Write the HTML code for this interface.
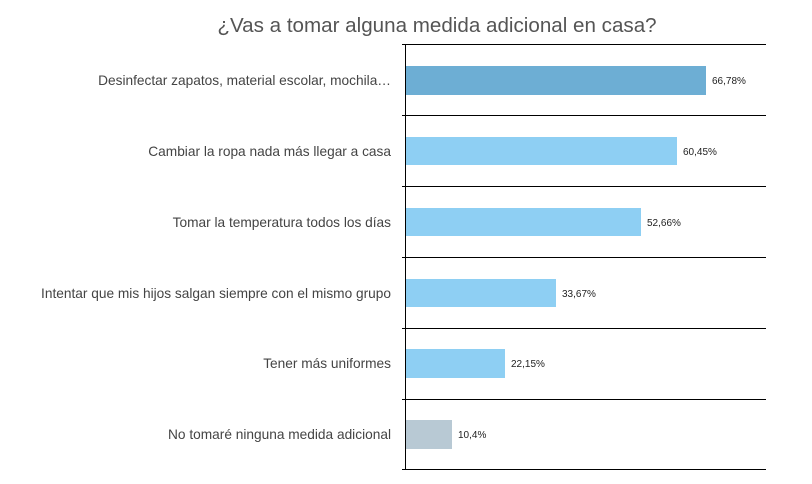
<!DOCTYPE html><html><head><style>body{margin:0;background:#fff;width:812px;height:479px;overflow:hidden;font-family:"Liberation Sans",sans-serif}</style></head><body>
<svg width="812" height="479" xmlns="http://www.w3.org/2000/svg">
<text x="437" y="32" text-anchor="middle" font-size="20.6" fill="#555" font-family="Liberation Sans">¿Vas a tomar alguna medida adicional en casa?</text>
<g stroke="#000" stroke-width="1">
<line x1="402" y1="44.5" x2="766" y2="44.5"/><line x1="402" y1="115.5" x2="766" y2="115.5"/><line x1="402" y1="186.5" x2="766" y2="186.5"/><line x1="402" y1="257.5" x2="766" y2="257.5"/><line x1="402" y1="328.5" x2="766" y2="328.5"/><line x1="402" y1="399.5" x2="766" y2="399.5"/><line x1="402" y1="469.5" x2="766" y2="469.5"/>
<line x1="405.5" y1="44" x2="405.5" y2="470"/></g>
<rect x="406" y="66" width="300" height="29" fill="#6daed4"/>
<rect x="406" y="137" width="271" height="28" fill="#8ecff3"/>
<rect x="406" y="208" width="235" height="28" fill="#8ecff3"/>
<rect x="406" y="279" width="150" height="28" fill="#8ecff3"/>
<rect x="406" y="349" width="99" height="29" fill="#8ecff3"/>
<rect x="406" y="420" width="46" height="29" fill="#b8c9d4"/>
<g font-size="10" fill="#222" font-family="Liberation Sans">
<text x="712" y="84">66,78%</text><text x="683" y="155">60,45%</text><text x="647" y="226">52,66%</text><text x="562" y="297">33,67%</text><text x="511" y="367">22,15%</text><text x="458" y="438">10,4%</text></g>
<g font-size="13.7" fill="#444" text-anchor="end" font-family="Liberation Sans">
<text x="391" y="85">Desinfectar zapatos, material escolar, mochila…</text>
<text x="391" y="156">Cambiar la ropa nada más llegar a casa</text>
<text x="391" y="227">Tomar la temperatura todos los días</text>
<text x="391" y="298">Intentar que mis hijos salgan siempre con el mismo grupo</text>
<text x="391" y="368">Tener más uniformes</text>
<text x="391" y="439">No tomaré ninguna medida adicional</text></g>
</svg></body></html>
